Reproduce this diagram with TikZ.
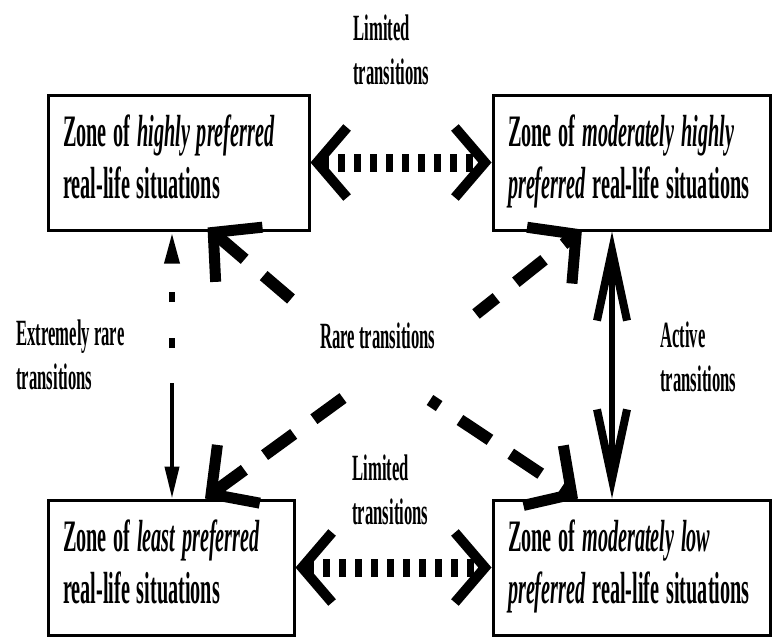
\documentclass[tikz,border=0pt]{standalone}
\usepackage{fontspec}
\setmainfont{Liberation Serif}
\usepackage{graphicx}
\usetikzlibrary{arrows.meta,positioning}

\newcommand{\squeezed}[1]{\scalebox{0.45}[1]{\begin{tabular}[t]{@{}l@{}}#1\end{tabular}}}

\begin{document}
\begin{tikzpicture}[
    x=0.5pt, y=-0.5pt,
    node distance=202.5pt,
    zone/.style={
        rectangle,
        draw=black,
        line width=1.5pt,
        inner xsep=7.5pt,
        align=left,
        minimum height=67.5pt,
        font=\bfseries\fontsize{22.5}{26}\selectfont
    },
    note/.style={
        anchor=base west,
        inner sep=0pt,
        font=\bfseries\fontsize{18.5}{22}\selectfont
    },
    limited/.style={
        line width=9pt,
        dash pattern=on 3.5pt off 4.5pt,
        >={Straight Barb[length=15pt,width=35pt,line width=5pt]}, <->
    },
    rare/.style={
        line width=6pt,
        dash pattern=on 18pt off 12.5pt,
        >={Straight Barb[length=17pt,width=36pt,line width=5.5pt]}, ->
    },
    active/.style={
        line width=3pt,
        >={Straight Barb[length=35pt,width=15pt,line width=4pt]}, <->
    },
    xrare/.style={
        line width=3pt,
        >={Triangle[length=16pt,width=7pt]}, ->
    }
  ]
  \useasboundingbox (0,0) rectangle (773,637);

  % the four zones
  \node [zone, text width=115.5pt] (hi) at (178.5,162.5)
  {\squeezed{Zone of \textit{highly preferred}\\real-life situations}};

  \node [zone, text width=123.5pt, right of=hi, xshift=24pt] (mh)
  {\squeezed{Zone of \textit{moderately highly}\\\textit{preferred} real-life situations}};

  \node [zone, text width=108pt, below of=hi, xshift=-3.75pt] (lp)
  {\squeezed{Zone of \textit{least preferred}\\real-life situations}};

  \node [zone, text width=123.5pt, below of=mh] (ml)
  {\squeezed{Zone of \textit{moderately low}\\\textit{preferred} real-life situations}};

  % labels
  \node [note] (limtop) at (353,40) {\squeezed{Limited\\transitions}};
  \node [note] (limbot) at (352,480) {\squeezed{Limited\\transitions}};
  \node [note] (rarelab) at (320,348) {\squeezed{Rare transitions}};
  \node [note] (xrarelab) at (16,345) {\squeezed{Extremely rare\\transitions}};
  \node [note] (activelab) at (660,347) {\squeezed{Active\\transitions}};

  % free ends
  \coordinate (xr) at (172,383);
  \coordinate (r1) at (291,299);
  \coordinate (r2) at (476,314);
  \coordinate (r3) at (343,398);
  \coordinate (r4) at (430,400);

  \draw [limited] (hi) -- (mh);
  \draw [limited] (lp) -- (ml);
  \draw [active] ([xshift=-9.75pt]mh.south) -- ([xshift=-9.75pt]ml.north);

  \draw [xrare, dash pattern=on 5pt off 18pt, dash phase=5.5pt] (xr) -- (xr |- hi.south);
  \draw [xrare, line width=2pt] (xr) -- (xr |- lp.north);

  \draw [rare] (r1) -- ([xshift=14.5pt,yshift=2pt]hi.south);
  \draw [rare, dash phase=5pt] (r2) -- ([xshift=-24.75pt,yshift=1pt]mh.south);
  \draw [rare] (r3) -- ([xshift=17pt]lp.north);
  \draw [rare, dash phase=12.5pt] (r4) -- ([xshift=-26.75pt]ml.north);
\end{tikzpicture}
\end{document}
